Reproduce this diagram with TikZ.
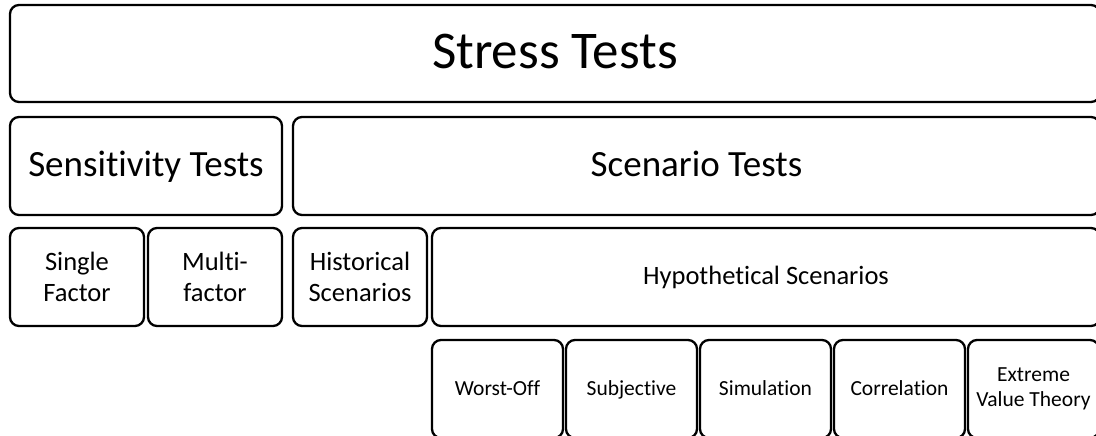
\documentclass[tikz,border=0pt]{standalone}
\usepackage{fontspec}
\setmainfont[Ligatures=NoCommon]{Carlito}
\usepackage{tikz}
\usetikzlibrary{positioning}
\tikzstyle{bx}=[%
      rectangle, rounded corners=9pt, draw=black, line width=2.3pt, fill=white,
      align=center, inner sep=2pt, outer sep=0pt, anchor=north west
]
\tikzstyle{ttl}=[bx, minimum width=1090pt, minimum height=97pt, font=\fontsize{53}{63}\selectfont,
      text height=35pt, text depth=5pt]
\tikzstyle{grp}=[bx, minimum height=98pt, font=\fontsize{37}{44}\selectfont,
      text height=24.5pt, text depth=3.6pt]
\tikzstyle{sub}=[bx, minimum height=98pt, font=\fontsize{26.5}{31}\selectfont]
\tikzstyle{leaf}=[bx, minimum width=131pt, minimum height=98pt, font=\fontsize{21.5}{25}\selectfont]
% single line labels get a fixed box so they sit at the same height
\tikzstyle{subln}=[sub, text height=17.5pt, text depth=2.6pt]
\tikzstyle{leafln}=[leaf, text height=14.2pt, text depth=2.1pt]

\begin{document}
\begin{tikzpicture}[x=1pt, y=-1pt]
    \useasboundingbox (0,0) rectangle (1096,436);
    \clip (0,0) rectangle (1096,436);
    % top level
    \node[ttl] (st) at (10,5) {Stress Tests};
    % second level
    \node[grp, minimum width=272pt, below right=15pt and 0pt of st.south west] (sens) {Sensitivity Tests};
    \node[grp, minimum width=807pt, right=11pt of sens] (scen) {Scenario Tests};
    % third level
    \node[sub, minimum width=134pt, below right=13pt and 0pt of sens.south west] (single) {Single\\Factor};
    \node[sub, minimum width=134pt, right=4pt of single] (multi) {Multi-\\factor};
    \node[sub, minimum width=134pt, below right=13pt and 0pt of scen.south west] (hist) {Historical\\Scenarios};
    \node[subln, minimum width=668pt, right=5pt of hist] (hyp) {Hypothetical Scenarios};
    % hypothetical scenario types
    \node[leafln, below right=14pt and 0pt of hyp.south west] (worst) {Worst-Off};
    \node[leafln, right=3pt of worst] (subj) {Subjective};
    \node[leafln, right=3pt of subj] (sim) {Simulation};
    \node[leafln, right=3pt of sim] (corr) {Correlation};
    \node[leaf, right=3pt of corr] (evt) {Extreme\\Value Theory};
\end{tikzpicture}
\end{document}
